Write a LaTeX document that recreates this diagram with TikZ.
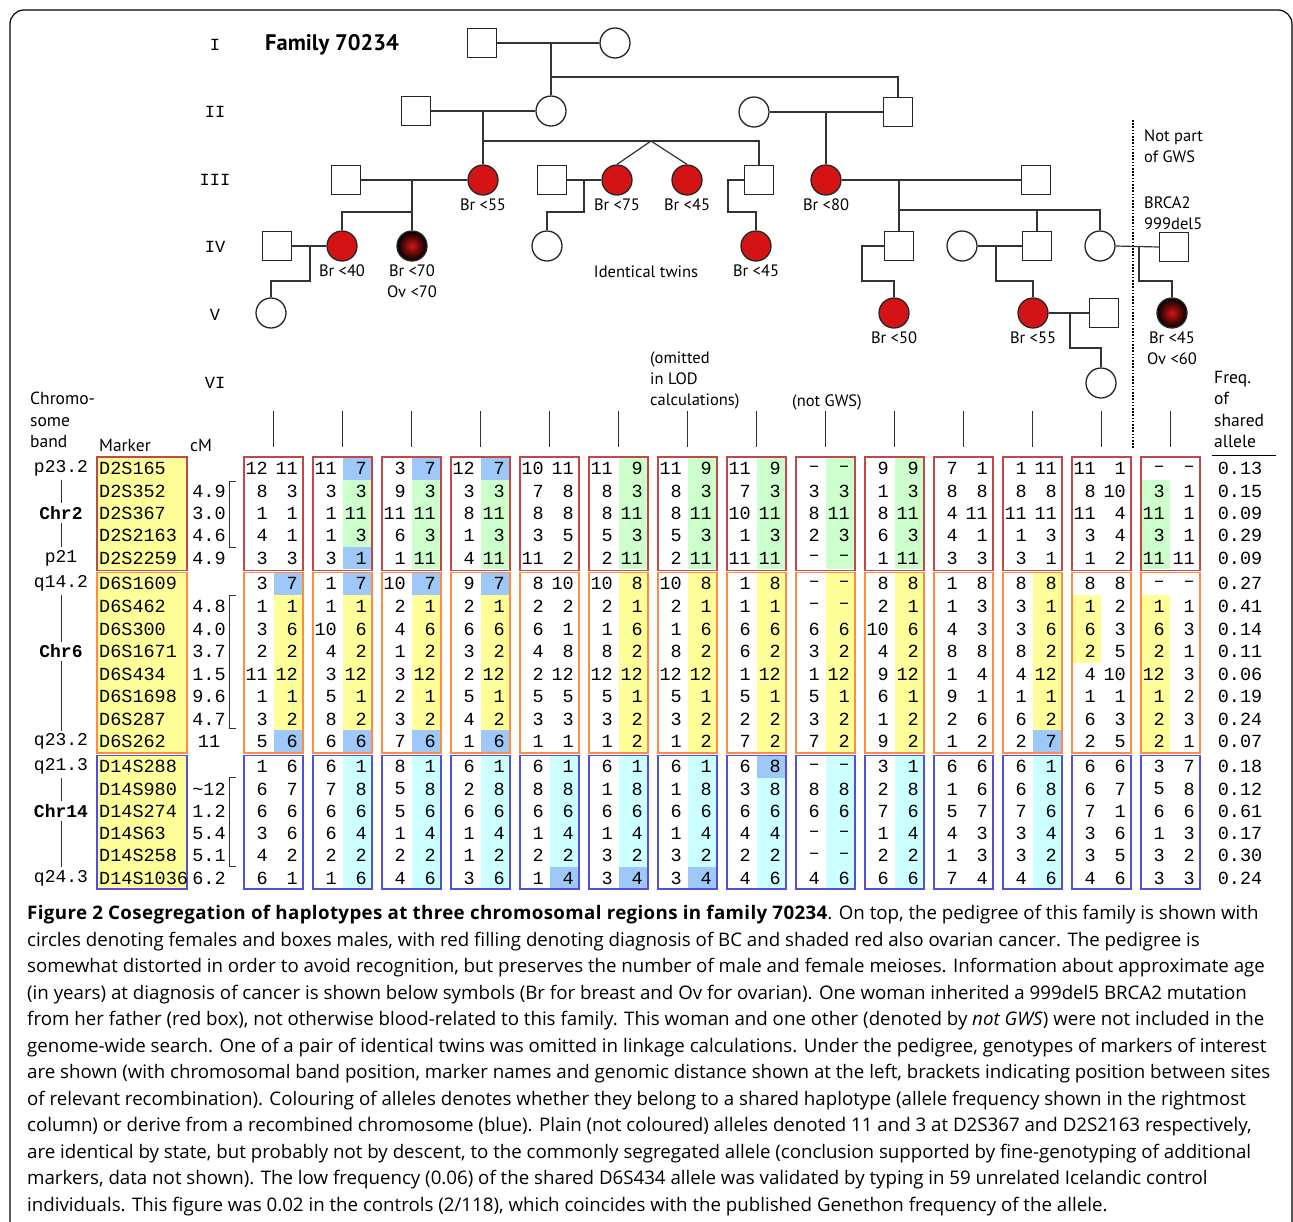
\documentclass[tikz,border=0pt]{standalone}
\usepackage{fontspec}
\setmainfont{Open Sans}
\setmonofont{Liberation Mono}
\newfontfamily\pedfont{PT Sans}
\usetikzlibrary{positioning,calc}
\definecolor{affred}{HTML}{D41414}
\definecolor{chrtwo}{HTML}{C04848}
\definecolor{chrsix}{HTML}{FF8C40}
\definecolor{chrfourteen}{HTML}{5050DD}
\definecolor{hlgreen}{HTML}{CCFFCC}
\definecolor{hlblue}{HTML}{9DC8F8}
\definecolor{hlyellow}{HTML}{FFFF99}
\definecolor{hlcyan}{HTML}{CCFFFF}
\tikzset{
  male/.style   ={rectangle, draw=black!85, line width=1.3pt, fill=white,
                  minimum size=29pt, inner sep=0pt},
  female/.style ={circle, draw=black!85, line width=1.3pt, fill=white,
                  minimum size=30pt, inner sep=0pt},
  brca/.style   ={female, fill=affred},
  ovca/.style   ={female, shading=radial, inner color=affred, outer color=black},
  pline/.style  ={draw=black!80, line width=1.2pt},
  plab/.style   ={font=\pedfont\fontsize{16.5}{21}\selectfont, align=center, inner sep=0pt},
  hdr/.style    ={font=\pedfont\fontsize{17.5}{21.5}\selectfont, align=left, inner sep=0pt},
  gen/.style    ={font=\ttfamily\fontsize{17}{17}\selectfont, inner sep=0pt},
  num/.style    ={font=\ttfamily\fontsize{18.5}{20}\selectfont, anchor=east, inner sep=0pt},
  mk/.style     ={font=\ttfamily\fontsize{18.5}{20}\selectfont, inner sep=0pt},
  band/.style   ={font=\ttfamily\fontsize{18}{20}\selectfont, inner sep=3pt},
  bandb/.style  ={band, font=\ttfamily\bfseries\fontsize{18}{20}\selectfont},
  boxtwo/.style ={draw=chrtwo, line width=1.3pt},
  boxsix/.style ={draw=chrsix, line width=1.3pt},
  boxfourteen/.style={draw=chrfourteen, line width=1.3pt},
  brk/.style    ={draw=black!80, line width=0.9pt},
  hln/.style={}, hlG/.style={fill=hlgreen}, hlB/.style={fill=hlblue},
  hlY/.style={fill=hlyellow}, hlC/.style={fill=hlcyan},
  hlg/.style={fill=hlgreen, xshift=-29.5pt}, hly/.style={fill=hlyellow, xshift=-29.5pt},
}
% one marker row: y, marker, cM, frequency, genotypes
\newcommand{\allelerow}[5]{%
  \node[mk, anchor=west] (mk-#2) at (99,#1) {#2};
  \node[mk] (cm-#2) at (209,#1) {#3};
  \node[mk] (fq-#2) at (1240,#1) {#4};
  \foreach \ala/\alb/\hc [count=\i] in {#5} {
    \pgfmathsetmacro\xl{244+69*(\i-1)}
    \path[hl\hc] (\xl+30,#1-11.3) rectangle (\xl+58.5,#1+11.3);
    \node[num] (a-#2-\i) at (\xl+24,#1) {\ala};
    \node[num] (b-#2-\i) at (\xl+54,#1) {\alb};
  }}

\begin{document}
\begin{tikzpicture}[x=1pt,y=-1pt]
  \useasboundingbox (0,0) rectangle (1293,1221);
  \draw[line width=1.2pt, rounded corners=14pt] (10,10) rectangle (1292,1240);

  % generations
  \node[gen] (gI)   at (215,45)  {I};
  \node[gen] (gII)  at (215,112) {II};
  \node[gen] (gIII) at (215,180) {III};
  \node[gen] (gIV)  at (215,247) {IV};
  \node[gen] (gV)   at (215,315) {V};
  \node[gen] (gVI)  at (215,383) {VI};
  \node[font=\pedfont\bfseries\fontsize{22.5}{22.5}\selectfont, anchor=west, inner sep=0pt]
    (title) at (265,45) {Family 70234};

  % pedigree symbols
  \node[male]   (I1)  at (482,43)  {};
  \node[female] (I2)  at (615,43)  {};
  \node[male]   (II1) at (416,111) {};
  \node[female] (II2) at (551,111) {};
  \node[female] (II3) at (754,112) {};
  \node[male]   (II4) at (898,112) {};
  \node[male]   (III1) at (346,180) {};
  \node[brca]   (III2) at (483,180) {};
  \node[male]   (III3) at (552,180) {};
  \node[brca]   (III4) at (617,180) {};
  \node[brca]   (III5) at (687,180) {};
  \node[male]   (III6) at (759,180) {};
  \node[brca]   (III7) at (826,180) {};
  \node[male]   (III8) at (1036,180) {};
  \node[male]   (IV1)  at (277,246) {};
  \node[brca]   (IV2)  at (342,246) {};
  \node[ovca]   (IV3)  at (412,246) {};
  \node[female] (IV4)  at (547,246) {};
  \node[brca]   (IV5)  at (756,246) {};
  \node[male]   (IV6)  at (899,246) {};
  \node[female] (IV7)  at (962,246) {};
  \node[male]   (IV8)  at (1037,246) {};
  \node[female] (IV9)  at (1100,246) {};
  \node[male]   (IV10) at (1174,247) {};
  \node[female] (V1)   at (271,313) {};
  \node[brca]   (V2)   at (894,313) {};
  \node[brca]   (V3)   at (1033,313) {};
  \node[male]   (V4)   at (1104,313) {};
  \node[ovca]   (V5)   at (1172,313) {};
  \node[female] (VI1)  at (1101,383) {};

  % marriages and descent
  \coordinate (cI) at (551,43);    \coordinate (sI) at (551,77);
  \draw[pline] (I1) -- (I2);
  \draw[pline] (cI) -- (II2.north);
  \draw[pline] (sI) -| (II4.north);
  \coordinate (cII) at (483,111);  \coordinate (sII) at (483,141);
  \coordinate (tw) at (651,141);
  \draw[pline] (II1) -- (II2);
  \draw[pline] (cII) -- (III2.north);
  \draw[pline] (sII) -| (III6.north);
  \draw[pline] (III4.north) -- (tw) -- (III5.north);
  \coordinate (cIIb) at (826,112);
  \draw[pline] (II3) -- (II4);
  \draw[pline] (cIIb) -- (III7.north);
  \coordinate (cIII1) at (412,180); \coordinate (sIII1) at (412,212);
  \draw[pline] (III1) -- (III2);
  \draw[pline] (cIII1) -- (IV3.north);
  \draw[pline] (sIII1) -| (IV2.north);
  \coordinate (cIII3) at (584,180); \coordinate (sIII3) at (584,212);
  \draw[pline] (III3) -- (III4);
  \draw[pline] (cIII3) -- (sIII3) -| (IV4.north);
  \coordinate (sIII6) at (728,212);
  \draw[pline] (III6.west) -| (sIII6) -| (IV5.north);
  \coordinate (cIII7) at (899,180); \coordinate (sIII7) at (899,210);
  \draw[pline] (III7) -- (III8);
  \draw[pline] (cIII7) -- (IV6.north);
  \draw[pline] (sIII7) -| (IV9.north);
  \draw[pline] (IV8.north) -- (IV8.north |- sIII7);
  \coordinate (cIV1) at (310,246);  \coordinate (sIV1) at (310,281);
  \draw[pline] (IV1) -- (IV2);
  \draw[pline] (cIV1) -- (sIV1) -| (V1.north);
  \coordinate (sIV6) at (862,281);
  \draw[pline] (IV6.west) -| (sIV6) -| (V2.north);
  \coordinate (cIV7) at (996,246);  \coordinate (sIV7) at (996,281);
  \draw[pline] (IV7) -- (IV8);
  \draw[pline] (cIV7) -- (sIV7) -| (V3.north);
  \coordinate (cIV9) at (1139,247); \coordinate (sIV9) at (1139,281);
  \draw[pline] (IV9.east) -- (IV10.west);
  \draw[pline] (cIV9) -- (sIV9) -| (V5.north);
  \coordinate (cV3) at (1070,313);  \coordinate (sV3) at (1070,348);
  \draw[pline] (V3) -- (V4);
  \draw[pline] (cV3) -- (sV3) -| (VI1.north);

  % diagnoses
  \node[plab, below=3pt of III2] (dIII2) {Br <55};
  \node[plab, below=3pt of III4] (dIII4) {Br <75};
  \node[plab, below=3pt of III5] (dIII5) {Br <45};
  \node[plab, below=3pt of III7] (dIII7) {Br <80};
  \node[plab, below=3pt of IV2]  (dIV2)  {Br <40};
  \node[plab, below=3pt of IV3]  (dIV3)  {Br <70\\Ov <70};
  \node[plab, below=3pt of IV5]  (dIV5)  {Br <45};
  \node[plab, below=3pt of V2]   (dV2)   {Br <50};
  \node[plab, below=3pt of V3]   (dV3)   {Br <55};
  \node[plab, below=3pt of V5]   (dV5)   {Br <45\\Ov <60};
  \node[plab] (twins) at (646,272) {Identical twins};
  \node[plab, align=left, anchor=north west] (gws) at (1144,130) {Not part\\of GWS};
  \node[plab, align=left, anchor=north west] (brca2) at (1144,197) {BRCA2\\999del5};
  \node[plab, align=left, anchor=north west] (omit) at (650,352) {(omitted\\in LOD\\calculations)};
  \node[plab] (notgws) at (827,402) {(not GWS)};
  \draw[line width=2pt, dash pattern=on 1.6pt off 1.6pt] (1133,120) -- (1133,448);

  % table headers
  \node[hdr, anchor=north west] (hband) at (30,392) {Chromo-\\some\\band};
  \node[hdr, anchor=west] (hmk) at (99,445) {Marker};
  \node[hdr, anchor=west] (hcm) at (190,445) {cM};
  \node[hdr, anchor=north west] (hfq) at (1214,371) {Freq.\\of\\shared\\allele};
  \draw[line width=1pt] (1212,455) -- (1276,455);

  % marker columns
  \draw[boxtwo, fill=hlyellow] (97,457) rectangle (187,570.5);
  \draw[boxsix, fill=hlyellow] (97,572.5) rectangle (187,753);
  \draw[boxfourteen, fill=hlyellow] (97,755.5) rectangle (187,889);

  % Chr2
  \allelerow{468.5}{D2S165}{}{0.13}{12/11/n, 11/7/B, 3/7/B, 12/7/B, 10/11/n, 11/9/G, 11/9/G, 11/9/G, –/–/G, 9/9/G, 7/1/n, 1/11/n, 11/1/n, –/–/n}
  \allelerow{490.9}{D2S352}{4.9}{0.15}{8/3/n, 3/3/G, 9/3/G, 3/3/G, 7/8/n, 8/3/G, 8/3/G, 7/3/G, 3/3/G, 1/3/G, 8/8/n, 8/8/n, 8/10/n, 3/1/g}
  \allelerow{513.3}{D2S367}{3.0}{0.09}{1/1/n, 1/11/G, 11/11/G, 8/11/G, 8/8/n, 8/11/G, 8/11/G, 10/11/G, 8/11/G, 8/11/G, 4/11/n, 11/11/n, 11/4/n, 11/1/g}
  \allelerow{535.7}{D2S2163}{4.6}{0.29}{4/1/n, 1/3/G, 6/3/G, 1/3/G, 3/5/n, 5/3/G, 5/3/G, 1/3/G, 2/3/G, 6/3/G, 4/1/n, 1/3/n, 3/4/n, 3/1/g}
  \allelerow{558.1}{D2S2259}{4.9}{0.09}{3/3/n, 3/1/B, 1/11/G, 4/11/G, 11/2/n, 2/11/G, 2/11/G, 11/11/G, –/–/G, 1/11/G, 3/3/n, 3/1/n, 1/2/n, 11/11/g}
  % Chr6
  \allelerow{583.8}{D6S1609}{}{0.27}{3/7/B, 1/7/B, 10/7/B, 9/7/B, 8/10/n, 10/8/Y, 10/8/Y, 1/8/Y, –/–/Y, 8/8/Y, 1/8/n, 8/8/Y, 8/8/n, –/–/n}
  \allelerow{606.3}{D6S462}{4.8}{0.41}{1/1/Y, 1/1/Y, 2/1/Y, 2/1/Y, 2/2/n, 2/1/Y, 2/1/Y, 1/1/Y, –/–/Y, 2/1/Y, 1/3/n, 3/1/Y, 1/2/y, 1/1/y}
  \allelerow{628.9}{D6S300}{4.0}{0.14}{3/6/Y, 10/6/Y, 4/6/Y, 6/6/Y, 6/1/n, 1/6/Y, 1/6/Y, 6/6/Y, 6/6/Y, 10/6/Y, 4/3/n, 3/6/Y, 6/3/y, 6/3/y}
  \allelerow{651.4}{D6S1671}{3.7}{0.11}{2/2/Y, 4/2/Y, 1/2/Y, 3/2/Y, 4/8/n, 8/2/Y, 8/2/Y, 6/2/Y, 3/2/Y, 4/2/Y, 8/8/n, 8/2/Y, 2/5/y, 2/1/y}
  \allelerow{674.0}{D6S434}{1.5}{0.06}{11/12/Y, 3/12/Y, 3/12/Y, 2/12/Y, 2/12/n, 12/12/Y, 12/12/Y, 1/12/Y, 1/12/Y, 9/12/Y, 1/4/n, 4/12/Y, 4/10/n, 12/3/y}
  \allelerow{696.6}{D6S1698}{9.6}{0.19}{1/1/Y, 5/1/Y, 2/1/Y, 5/1/Y, 5/5/n, 5/1/Y, 5/1/Y, 5/1/Y, 5/1/Y, 6/1/Y, 9/1/n, 1/1/Y, 1/1/n, 1/2/y}
  \allelerow{719.1}{D6S287}{4.7}{0.24}{3/2/Y, 8/2/Y, 3/2/Y, 4/2/Y, 3/3/n, 3/2/Y, 3/2/Y, 2/2/Y, 3/2/Y, 1/2/Y, 2/6/n, 6/2/Y, 6/3/n, 2/3/y}
  \allelerow{741.7}{D6S262}{11}{0.07}{5/6/B, 6/6/B, 7/6/B, 1/6/B, 1/1/n, 1/2/Y, 1/2/Y, 7/2/Y, 7/2/Y, 9/2/Y, 1/2/n, 2/7/B, 2/5/n, 2/1/y}
  % Chr14
  \allelerow{766.6}{D14S288}{}{0.18}{1/6/n, 6/1/C, 8/1/C, 6/1/C, 6/1/C, 6/1/C, 6/1/C, 6/8/B, –/–/C, 3/1/C, 6/6/n, 6/1/C, 6/6/n, 3/7/n}
  \allelerow{788.9}{D14S980}{\textasciitilde12}{0.12}{6/7/n, 7/8/C, 5/8/C, 2/8/C, 8/8/C, 1/8/C, 1/8/C, 3/8/C, 8/8/C, 2/8/C, 1/6/n, 6/8/C, 6/7/n, 5/8/n}
  \allelerow{811.1}{D14S274}{1.2}{0.61}{6/6/n, 6/6/C, 5/6/C, 6/6/C, 6/6/C, 6/6/C, 6/6/C, 6/6/C, 6/6/C, 7/6/C, 5/7/n, 7/6/C, 7/1/n, 6/6/n}
  \allelerow{833.4}{D14S63}{5.4}{0.17}{3/6/n, 6/4/C, 1/4/C, 1/4/C, 1/4/C, 1/4/C, 1/4/C, 4/4/C, –/–/C, 1/4/C, 4/3/n, 3/4/C, 3/6/n, 1/3/n}
  \allelerow{855.6}{D14S258}{5.1}{0.30}{4/2/n, 2/2/C, 2/2/C, 1/2/C, 2/2/C, 3/2/C, 3/2/C, 2/2/C, –/–/C, 2/2/C, 1/3/n, 3/2/C, 3/5/n, 3/2/n}
  \allelerow{877.9}{D14S1036}{6.2}{0.24}{6/1/n, 1/6/C, 4/6/C, 3/6/C, 1/4/B, 3/4/B, 3/4/B, 4/6/C, 4/6/C, 6/6/C, 7/4/n, 4/6/C, 4/6/n, 3/3/n}

  % haplotype boxes and lines up to the pedigree
  \foreach \i in {1,...,14}{
    \pgfmathsetmacro\xl{244+69*(\i-1)}
    \draw[boxtwo] (\xl,457) rectangle (\xl+59,570.5);
    \draw[boxsix] (\xl,572.5) rectangle (\xl+59,753);
    \draw[boxfourteen] (\xl,755.5) rectangle (\xl+59,889);
    \draw[pline, line width=1pt] (\xl+29.5,411) -- (\xl+29.5,447);
  }

  % chromosome bands
  \node[band]  (p232) at (61,468.5) {p23.2};
  \node[bandb] (chr2) at (61,513.3) {Chr2};
  \node[band]  (p21)  at (61,558.1) {p21};
  \node[band]  (q142) at (61,583.8) {q14.2};
  \node[bandb] (chr6) at (61,651.4) {Chr6};
  \node[band]  (q232) at (61,741.7) {q23.2};
  \node[band]  (q213) at (61,766.6) {q21.3};
  \node[bandb] (chr14) at (61,811.1) {Chr14};
  \node[band]  (q243) at (61,877.9) {q24.3};
  \draw[brk] (p232) -- (chr2); \draw[brk] (chr2) -- (p21);
  \draw[brk] (q142) -- (chr6); \draw[brk] (chr6) -- (q232);
  \draw[brk] (q213) -- (chr14); \draw[brk] (chr14) -- (q243);
  % recombination brackets
  \draw[brk] (236,481) -| (229,547) -- (236,547);
  \draw[brk] (236,595) -| (229,728) -- (236,728);
  \draw[brk] (236,777) -| (229,866) -- (236,866);

  % caption
  \node[anchor=north west, align=left, inner sep=0pt,
        font=\fontsize{18.7}{26.5}\selectfont] (cap) at (27,905)
  {{\bfseries\addfontfeatures{LetterSpace=2}Figure 2 Cosegregation of haplotypes at three chromosomal regions in family 70234}. On top, the pedigree of this family is shown with\\
  circles denoting females and boxes males, with red filling denoting diagnosis of BC and shaded red also ovarian cancer. The pedigree is\\
  somewhat distorted in order to avoid recognition, but preserves the number of male and female meioses. Information about approximate age\\
  (in years) at diagnosis of cancer is shown below symbols (Br for breast and Ov for ovarian). One woman inherited a 999del5 BRCA2 mutation\\
  from her father (red box), not otherwise blood-related to this family. This woman and one other (denoted by \emph{not GWS}) were not included in the\\
  genome-wide search. One of a pair of identical twins was omitted in linkage calculations. Under the pedigree, genotypes of markers of interest\\
  are shown (with chromosomal band position, marker names and genomic distance shown at the left, brackets indicating position between sites\\
  of relevant recombination). Colouring of alleles denotes whether they belong to a shared haplotype (allele frequency shown in the rightmost\\
  column) or derive from a recombined chromosome (blue). Plain (not coloured) alleles denoted 11 and 3 at D2S367 and D2S2163 respectively,\\
  are identical by state, but probably not by descent, to the commonly segregated allele (conclusion supported by fine-genotyping of additional\\
  markers, data not shown). The low frequency (0.06) of the shared D6S434 allele was validated by typing in 59 unrelated Icelandic control\\
  individuals. This figure was 0.02 in the controls (2/118), which coincides with the published Genethon frequency of the allele.};
\end{tikzpicture}
\end{document}
